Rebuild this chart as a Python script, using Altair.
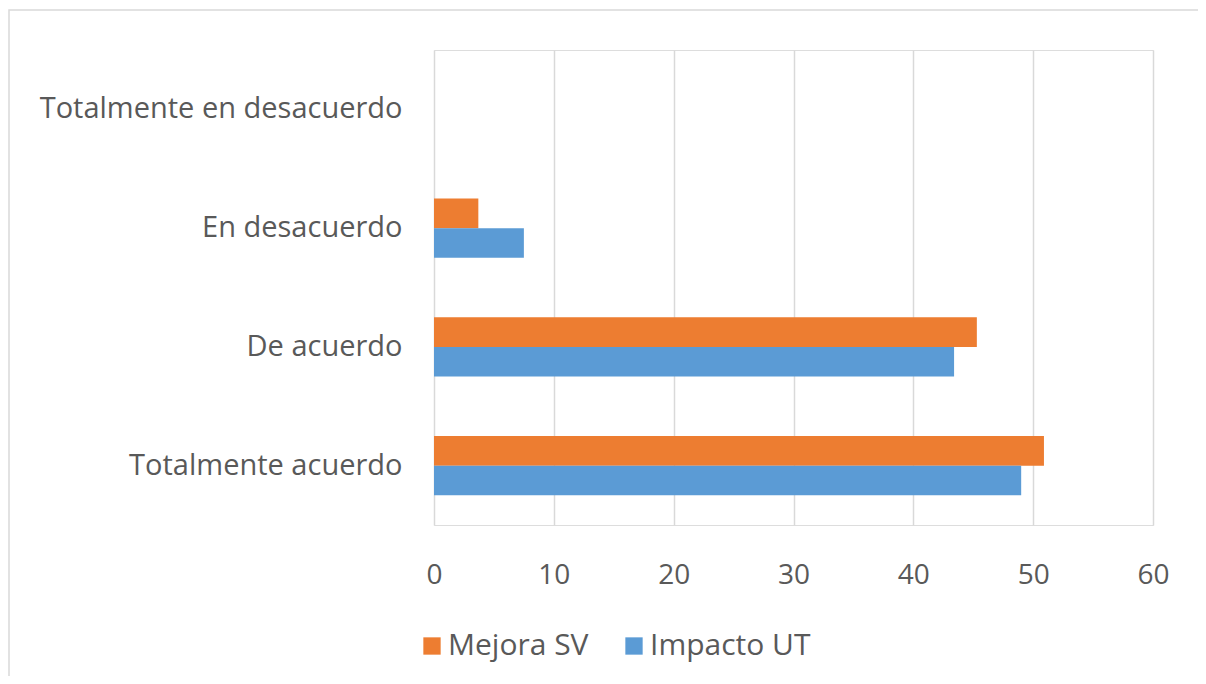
import altair as alt
import pandas as pd

categorias = ["Totalmente en desacuerdo", "En desacuerdo", "De acuerdo", "Totalmente acuerdo"]
series = ["Mejora SV", "Impacto UT"]
mejora_sv = [0, 3.7, 45.3, 50.9]
impacto_ut = [0, 7.5, 43.4, 49.0]
ticks_x = [0, 10, 20, 30, 40, 50, 60]
colores = ["#ED7D31", "#5B9BD5"]

rows = []
for c, m, i in zip(categorias, mejora_sv, impacto_ut):
    rows.append({"categoria": c, "serie": series[0], "valor": m})
    rows.append({"categoria": c, "serie": series[1], "valor": i})
df = pd.DataFrame(rows)

FONT = "Open Sans"
GREY = "#595959"

bars = alt.Chart(df).mark_bar().encode(
    x=alt.X("valor:Q",
            scale=alt.Scale(domain=[0, 60], nice=False),
            axis=alt.Axis(values=ticks_x, grid=True, gridColor="#d9d9d9", gridWidth=1.5,
                          domain=False, ticks=False, title=None, labelFlush=False,
                          labelFontSize=28, labelColor=GREY, labelPadding=36, labelFont=FONT)),
    y=alt.Y("categoria:N", sort=categorias,
            scale=alt.Scale(paddingInner=0.5, paddingOuter=0.25),
            axis=alt.Axis(domain=False, ticks=False, title=None, grid=False,
                          labelFontSize=29, labelColor=GREY, labelPadding=32, labelFont=FONT,
                          labelLimit=500)),
    yOffset=alt.YOffset("serie:N", sort=series, scale=alt.Scale(paddingInner=0, paddingOuter=0)),
    color=alt.Color("serie:N", sort=series,
                    scale=alt.Scale(domain=series, range=colores),
                    legend=alt.Legend(orient="none", legendX=-17, legendY=581,
                                      direction="horizontal", title=None,
                                      symbolType="square", symbolSize=300,
                                      symbolStrokeWidth=0,
                                      labelFontSize=30, labelColor=GREY, labelFont=FONT,
                                      labelLimit=400,
                                      columnPadding=30, labelOffset=1)),
)

frame = alt.Chart(pd.DataFrame({"a": [0]})).mark_rect(
    filled=False, stroke="#d9d9d9", strokeWidth=1.5
).encode(
    x=alt.value(-425), x2=alt.value(900), y=alt.value(-40), y2=alt.value(800)
)

chart = alt.layer(frame, bars).properties(
    width=719, height=475,
    autosize=alt.AutoSizeParams(type="none"),
    padding={"left": 426, "top": 42, "right": 45, "bottom": 151},
).configure_view(stroke=None).configure(font=FONT)

chart.save("out.html", embed_options={"renderer": "svg", "actions": False})
